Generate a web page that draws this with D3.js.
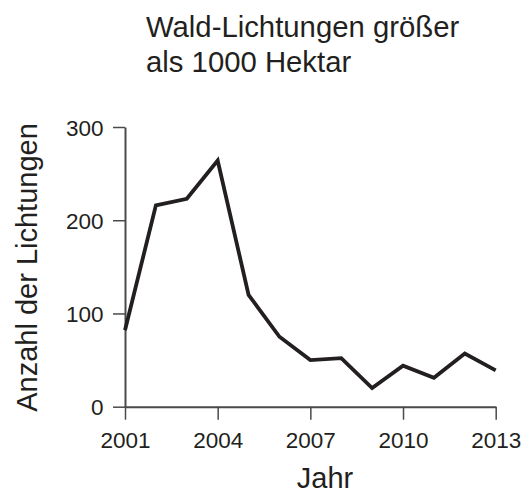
<!DOCTYPE html>
<html><head><meta charset="utf-8">
<script src="https://cdn.jsdelivr.net/npm/d3@7"></script>
<style>body{margin:0;background:#fff}svg{display:block}text{font-family:"Liberation Sans",Arial,sans-serif;fill:#231f20}</style>
</head><body>
<script>
const years = [2001,2002,2003,2004,2005,2006,2007,2008,2009,2010,2011,2012,2013];
const counts = [82,216,223,264,120,75,50,52,20,44,31,57,39];
const xTicks = [2001,2004,2007,2010,2013];
const yTicks = [0,100,200,300];
const titleLines = ["Wald-Lichtungen größer","als 1000 Hektar"];

const W=530,H=502;
const svg=d3.select("body").append("svg").attr("width",W).attr("height",H);
const x=d3.scaleLinear().domain([2001,2013]).range([125,495.7]);
const y=d3.scaleLinear().domain([0,300]).range([406.7,127]);

const xa=svg.append("g").attr("transform","translate(0,406.7)")
  .call(d3.axisBottom(x).tickValues(xTicks).tickFormat(d3.format("d")).tickSize(13).tickSizeOuter(0));
const ya=svg.append("g").attr("transform","translate(125,0)")
  .call(d3.axisLeft(y).tickValues(yTicks).tickSize(12).tickSizeOuter(0));
[xa,ya].forEach(g=>{
  g.select(".domain").attr("stroke","#4a4a4a").attr("stroke-width",2);
  g.selectAll(".tick line").attr("stroke","#4a4a4a").attr("stroke-width",1.5);
  g.selectAll(".tick text").attr("font-size",22.5).style("font-family","Liberation Sans, Arial, sans-serif").attr("fill","#231f20");
});
xa.selectAll(".tick text").attr("dy",0).attr("y",41.6);
ya.selectAll(".tick text").attr("x",-21.5).attr("dy","0.36em");

svg.append("path").datum(years.map((d,i)=>[d,counts[i]]))
  .attr("fill","none").attr("stroke","#231f20").attr("stroke-width",3.8).attr("stroke-linejoin","miter")
  .attr("d",d3.line().x(d=>x(d[0])).y(d=>y(d[1])));

svg.selectAll(".title").data(titleLines).join("text")
  .attr("x",146).attr("y",(d,i)=>37+i*34.7).attr("font-size",29.3).text(d=>d);
svg.append("text").attr("x",325).attr("y",488).attr("text-anchor","middle").attr("font-size",29).text("Jahr");
svg.append("text").attr("transform","translate(36.7,267.5) rotate(-90)").attr("text-anchor","middle").attr("font-size",29).text("Anzahl der Lichtungen");
</script>
</body></html>
